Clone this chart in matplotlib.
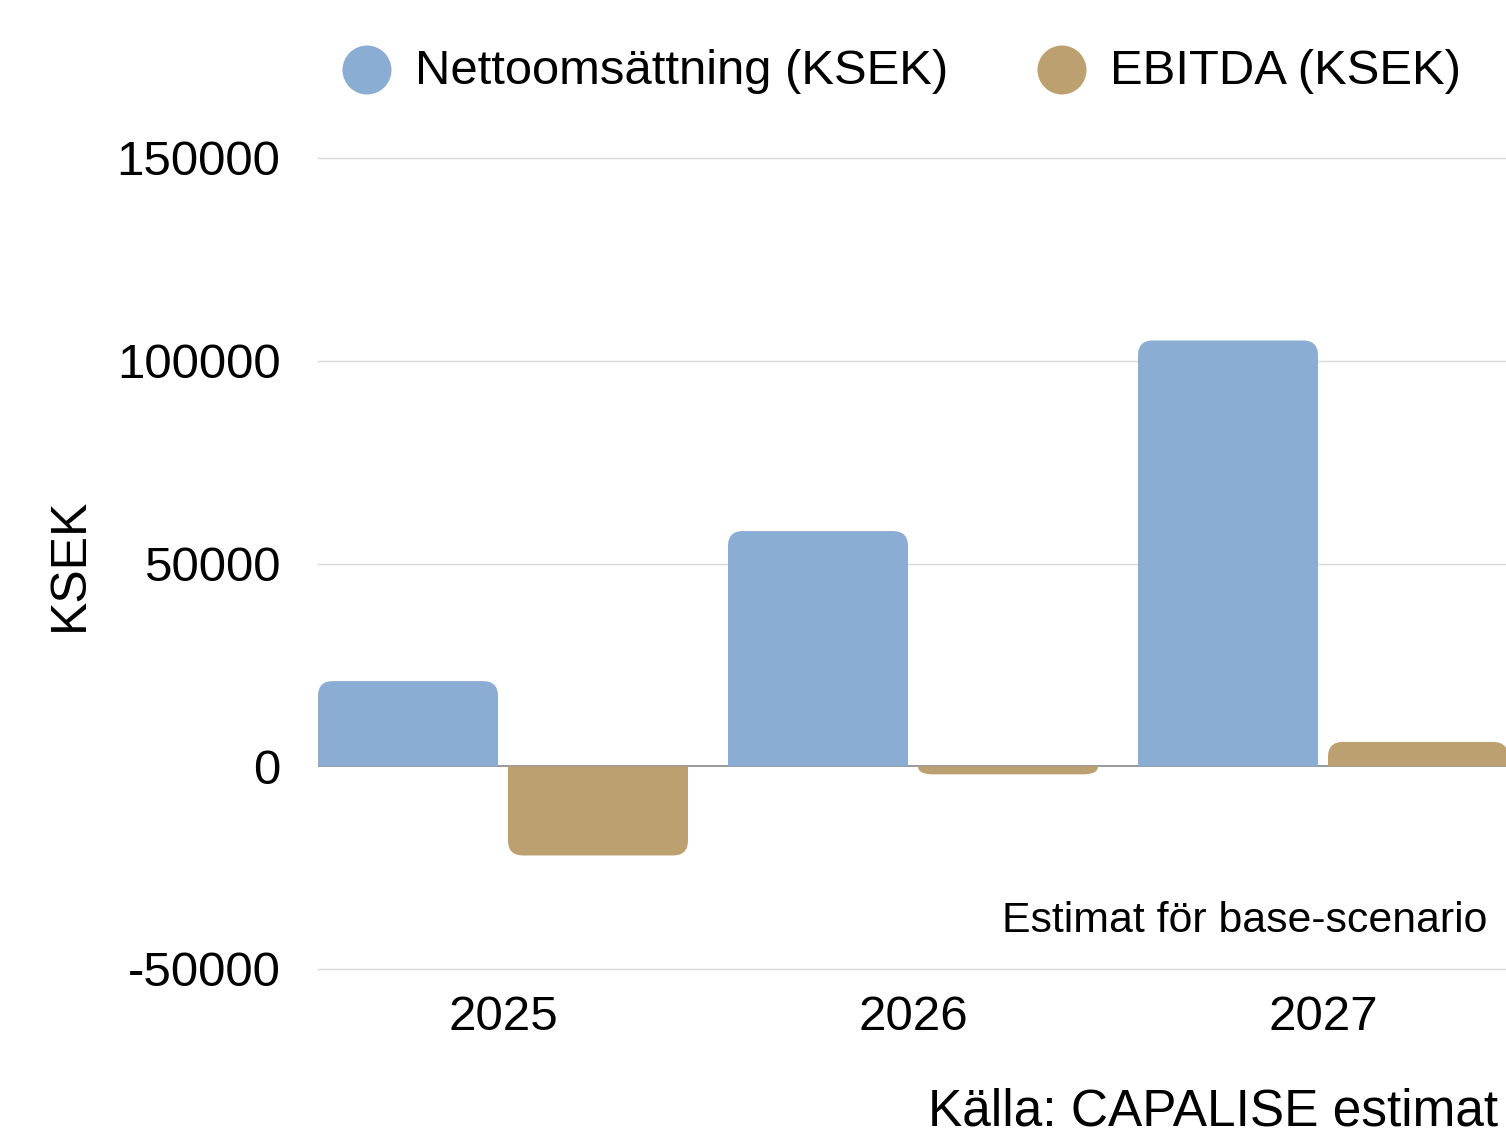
import matplotlib
matplotlib.use("Agg")
import matplotlib.pyplot as plt
from matplotlib.path import Path
from matplotlib.patches import PathPatch, Circle

plt.rcParams['font.family'] = ['Liberation Sans', 'DejaVu Sans']

# --- data ---
years = ["2025", "2026", "2027"]
netto = [21000, 58000, 105000]
ebitda = [-22000, -2000, 6000]
series_names = ["Nettoomsättning (KSEK)", "EBITDA (KSEK)"]
colors = ["#8BACD3", "#BDA070"]
yticks = [-50000, 0, 50000, 100000, 150000]

W, H = 1506, 1135
fig = plt.figure(figsize=(W / 100, H / 100), dpi=100)
ax = fig.add_axes([318 / W, 1 - 969 / H, (1506 - 318) / W, (969 - 158) / H])

x_lo = (318 - 503) / 410
x_hi = (1506 - 503) / 410
ax.set_xlim(x_lo, x_hi)
ax.set_ylim(-50000, 150000)

# pixels per data unit, used for corner radius
px_x = 410.0
px_y = (969 - 158) / 200000
r_px = 15
rx = r_px / px_x
ry = r_px / px_y


def rounded_bar(ax, xc, w, v, color):
    # bar with rounded corners at the far end from zero
    x0, x1 = xc - w / 2, xc + w / 2
    s = 1 if v >= 0 else -1
    ry_ = min(ry, abs(v))
    rx_ = min(rx, w / 2)
    verts = [
        (x0, 0), (x0, v - s * ry_),
        (x0, v), (x0 + rx_, v),
        (x1 - rx_, v),
        (x1, v), (x1, v - s * ry_),
        (x1, 0), (x0, 0),
    ]
    codes = [Path.MOVETO, Path.LINETO,
             Path.CURVE3, Path.CURVE3,
             Path.LINETO,
             Path.CURVE3, Path.CURVE3,
             Path.LINETO, Path.CLOSEPOLY]
    ax.add_patch(PathPatch(Path(verts, codes), facecolor=color,
                           edgecolor="none", zorder=3))


bw = 180 / 410
off = 95 / 410
for i in range(len(years)):
    rounded_bar(ax, i - off, bw, netto[i], colors[0])
    rounded_bar(ax, i + off, bw, ebitda[i], colors[1])

for t in yticks:
    if t == 0:
        continue
    ax.axhline(t, color="#D9D9D9", lw=1.0, zorder=1, clip_on=False)
ax.axhline(0, color="#888888", lw=1.2, zorder=2)

for s in ax.spines.values():
    s.set_visible(False)
ax.set_yticks(yticks)
ax.set_yticklabels([str(t) for t in yticks], fontsize=35.5)
ax.set_xticks(range(len(years)))
ax.set_xticklabels(years, fontsize=35.5)
ax.tick_params(length=0)
ax.tick_params(axis="y", pad=27)
ax.tick_params(axis="x", pad=19)

fig.text(70 / W, 1 - 564 / H, "KSEK", rotation=90, fontsize=36,
         ha="center", va="center")

fig.text(1487 / W, 1 - 921 / H, "Estimat för base-scenario", fontsize=30.8,
         ha="right", va="center")
fig.text(1498 / W, 1 - 1112 / H, "Källa: CAPALISE estimat", fontsize=37,
         ha="right", va="center")

# legend
for cx, name, c in [(367, series_names[0], colors[0]), (1062, series_names[1], colors[1])]:
    fig.patches.append(Circle((cx / 100, (H - 70) / 100), 0.245,
                              transform=fig.dpi_scale_trans,
                              facecolor=c, edgecolor="none"))
    fig.text((cx + 48) / W, 1 - 71 / H, name, fontsize=35.3, ha="left", va="center")

fig.savefig("out.png", dpi=100)
